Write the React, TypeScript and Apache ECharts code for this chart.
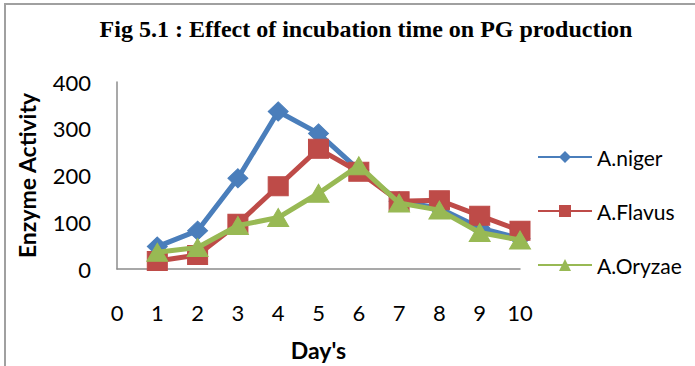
import React, { useEffect, useRef } from "react";
import * as echarts from "echarts";

const days = [1, 2, 3, 4, 5, 6, 7, 8, 9, 10];
const xTicks = [0, 1, 2, 3, 4, 5, 6, 7, 8, 9, 10];
const yTicks = [0, 100, 200, 300, 400];
const seriesNames = ["A.niger", "A.Flavus", "A.Oryzae"];
const nigerValues = [48, 82, 194, 337, 290, 212, 145, 130, 88, 65];
const flavusValues = [17, 30, 97, 177, 257, 208, 145, 147, 114, 82];
const oryzaeValues = [36, 46, 93, 110, 162, 221, 141, 126, 78, 62];
const colors = ["#4A7EBB", "#BE4B48", "#98B954"];
const symbols = ["diamond", "rect", "triangle"];

export default function App() {
  const ref = useRef<HTMLDivElement>(null);
  useEffect(() => {
    if (!ref.current) return;
    const chart = echarts.init(ref.current, null, { renderer: "svg" });
    const all = [nigerValues, flavusValues, oryzaeValues];
    const symbolSizes = [[20, 19], [20, 19], [21, 18]];
    chart.setOption({
      animation: false,
      backgroundColor: "#ffffff",
      title: {
        text: "Fig 5.1 : Effect of incubation time on PG production",
        left: 361,
        textAlign: "center",
        top: 12,
        textStyle: {
          fontFamily: "Liberation Serif",
          fontWeight: "bold",
          fontSize: 24,
          color: "#000",
        },
      },
      graphic: [
        {
          type: "rect",
          shape: { x: 5, y: 4, width: 720, height: 420 },
          style: { fill: "none", stroke: "#a0a0a0", lineWidth: 2 },
          silent: true,
        },
      ],
      legend: {
        orient: "vertical",
        left: 532,
        top: 141,
        itemWidth: 54,
        itemHeight: 15,
        itemGap: 32,
        textStyle: {
          fontFamily: "Lato",
          fontSize: 21,
          color: "#000",
          lineHeight: 22,
        },
        data: seriesNames,
      },
      grid: { left: 117, top: 82, width: 403, height: 190, containLabel: false },
      xAxis: {
        type: "value",
        min: xTicks[0],
        max: xTicks[xTicks.length - 1],
        interval: 1,
        name: "Day's",
        nameLocation: "middle",
        nameGap: 69,
        nameTextStyle: {
          fontFamily: "Lato",
          fontWeight: "bold",
          fontSize: 23,
          color: "#000",
        },
        axisLine: { show: true, lineStyle: { color: "#8c8c8c", width: 1.5 } },
        axisTick: { show: false },
        splitLine: { show: false },
        axisLabel: {
          margin: 32,
          fontFamily: "Lato",
          fontSize: 22,
          color: "#000",
        },
      },
      yAxis: {
        type: "value",
        min: yTicks[0],
        max: yTicks[yTicks.length - 1],
        interval: 100,
        name: "Enzyme Activity",
        nameLocation: "middle",
        nameGap: 79,
        nameTextStyle: {
          fontFamily: "Lato",
          fontWeight: "bold",
          fontSize: 23,
          color: "#000",
        },
        axisLine: { show: true, lineStyle: { color: "#8c8c8c", width: 1.5 } },
        axisTick: { show: false },
        splitLine: { show: false },
        axisLabel: {
          margin: 26,
          fontFamily: "Lato",
          fontSize: 22,
          color: "#000",
        },
      },
      series: seriesNames.map((name, i) => ({
        name,
        type: "line",
        data: days.map((d, j) => [d, all[i][j]]),
        symbol: symbols[i],
        symbolSize: symbolSizes[i],
        showAllSymbol: true,
        lineStyle: { color: colors[i], width: 5 },
        itemStyle: { color: colors[i], borderColor: colors[i] },
        z: 2 + i,
      })),
    });
    return () => chart.dispose();
  }, []);
  return (
    <div style={{ position: "absolute", left: 0, top: 0, width: 695, height: 366 }}>
      <div ref={ref} style={{ width: 695, height: 366 }} />
    </div>
  );
}
